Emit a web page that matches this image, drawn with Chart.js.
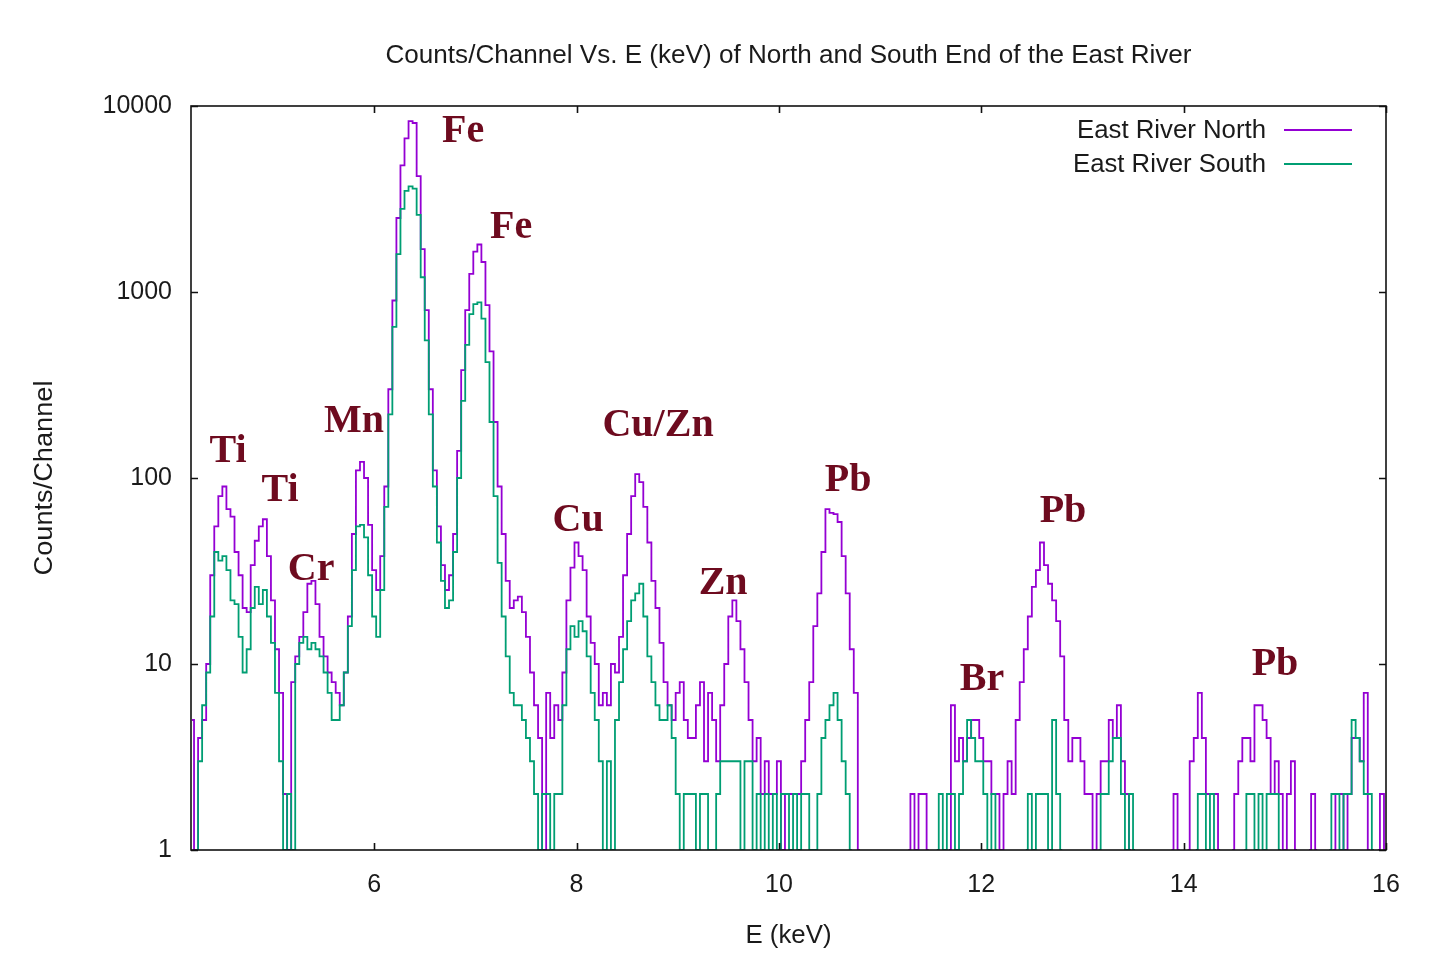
<!DOCTYPE html>
<html>
<head>
<meta charset="utf-8">
<script src="https://cdn.jsdelivr.net/npm/chart.js@4.4.1/dist/chart.umd.min.js"></script>
<style>
  html, body { margin: 0; padding: 0; background: #ffffff; }
  #wrap { width: 1434px; height: 957px; position: relative; }
</style>
</head>
<body>
<div id="wrap"><canvas id="spectrum" width="1434" height="957"></canvas></div>
<script>
// Detector calibration: channel i sits at E = START_KEV + i * CHANNEL_KEV
const START_KEV = 4.20;
const CHANNEL_KEV = 0.04;

// Counts per channel, East River North (null = empty channel)
const north_4to8 = [
  5, 1, 4, 5, 10, 30, 55, 80, 90, 68,
  62, 40, 30, 20, 19, 34, 46, 55, 60, 38,
  22, 12, 7, 2, 1, 8, 11, 14, 19, 27,
  28, 21, 14, 11, 9, 8, 7, 6, 9, 18,
  50, 110, 122, 100, 56, 32, 25, 38, 90, 300,
  900, 2500, 4800, 6700, 8300, 8100, 4200, 1700, 800, 300,
  110, 55, 34, 25, 30, 50, 140, 380, 800, 1250,
  1650, 1800, 1450, 850, 480, 200, 90, 50, 28, 20,
  22, 23, 19, 14, 9, 6, 4, 1, 7, 4,
  6, 5, 9, 22, 33
];
const north_8to12 = [
  45, 38, 32, 18, 13, 10, 6, 7, 6, 10,
  9, 14, 30, 50, 80, 105, 95, 70, 45, 28,
  20, 13, 8, 6, 5, 7, 8, 5, 4, 4,
  6, 8, 3, 7, 5, 3, 6, 10, 18, 22,
  17, 12, 8, 5, 3, 4, 2, 3, 2, 2,
  3, 1, 2, 2, 2, 2, 3, 5, 8, 16,
  24, 40, 68, 65, 64, 58, 38, 24, 12, 7,
  1, null, null, null, null, null, null, null, null, null,
  null, null, 1, 2, 1, 2, 2, 1, null, null,
  null, null, 1, 6, 3, 4, 3, 4, 5, 5
];
const north_12to16 = [
  4, 3, 3, 2, 2, 1, 2, 3, 2, 5,
  8, 12, 18, 26, 32, 45, 34, 27, 22, 17,
  11, 5, 3, 4, 4, 3, 2, 2, 1, 2,
  3, 3, 5, 4, 6, 3, 2, 1, null, null,
  null, null, null, null, null, null, null, 1, 2, 1,
  null, 1, 3, 4, 7, 4, 2, 2, 2, 1,
  null, null, 1, 2, 3, 4, 4, 3, 6, 6,
  5, 4, 2, 3, 2, 1, 2, 3, 1, null,
  null, 1, 2, 1, null, null, null, 1, 2, 2,
  1, 2, 4, 4, 3, 7, 1, null, 1, 2,
  1
];

// Counts per channel, East River South (null = empty channel)
const south_4to8 = [
  null, 1, 3, 6, 9, 18, 40, 36, 38, 32,
  22, 21, 14, 9, 12, 20, 26, 21, 25, 18,
  13, 7, 3, 1, 2, 1, 10, 13, 14, 12,
  13, 12, 11, 9, 7, 5, 5, 6, 9, 16,
  32, 55, 56, 48, 30, 18, 14, 25, 70, 220,
  650, 1600, 2800, 3500, 3700, 3600, 2600, 1200, 550, 220,
  90, 45, 28, 20, 22, 40, 100, 260, 520, 760,
  860, 880, 720, 420, 200, 80, 35, 18, 11, 7,
  6, 6, 5, 4, 3, 2, 1, 2, 2, 1,
  2, 2, 6, 12, 16
];
const south_8to12 = [
  14, 17, 15, 11, 7, 5, 3, 1, 3, 1,
  5, 8, 12, 17, 22, 24, 27, 18, 11, 8,
  6, 5, 5, 6, 4, 2, 1, 2, 2, 2,
  1, 2, 2, 1, 1, 2, 3, 3, 3, 3,
  3, 1, 3, 3, 1, 2, 1, 2, 1, 2,
  1, 2, 2, 1, 2, 1, 2, 2, 1, 1,
  2, 4, 5, 6, 7, 5, 3, 2, 1, null,
  null, null, null, null, null, null, null, null, null, null,
  null, null, null, null, null, null, null, null, null, 1,
  2, 1, 2, 2, 1, 2, 3, 5, 4, 3
];
const south_12to16 = [
  3, 2, 1, 2, 1, null, null, null, null, null,
  null, 1, 2, 1, 2, 2, 2, 1, 5, 2,
  1, null, null, null, null, null, null, null, null, 1,
  2, 2, 3, 4, 4, 2, 1, 2, 1, null,
  null, null, null, null, null, null, null, null, null, null,
  null, null, null, 1, 2, 2, 1, 2, 1, null,
  null, null, null, null, null, 1, 2, 2, 1, 2,
  1, 2, 2, 2, 1, null, null, null, null, null,
  null, null, null, null, null, null, 1, 2, 2, 1,
  2, 2, 5, 4, 3, 2, 2, 1, null, null,
  null
];

// Axis ticks
const energyTicks = [6, 8, 10, 12, 14, 16];
const countTicks = [1, 10, 100, 1000, 10000];

// Peak identifications: element, energy (keV), counts level of the label
const peakNames = ['Ti', 'Ti', 'Cr', 'Mn', 'Fe', 'Fe', 'Cu', 'Cu/Zn', 'Zn', 'Pb', 'Br', 'Pb', 'Pb'];
const peakEnergies = [4.557, 5.071, 5.377, 5.802, 6.879, 7.354, 8.016, 8.806, 9.449, 10.684, 12.008, 12.808, 14.903];
const peakLabelCounts = [138, 86, 32, 200, 7250, 2210, 59, 190, 27, 97, 8.2, 66, 9.9];

const seriesNames = ['East River North', 'East River South'];
const seriesColors = ['#9400D3', '#009E73'];

function toPoints(counts) {
  return counts.map((c, i) => ({ x: +(START_KEV + i * CHANNEL_KEV).toFixed(2), y: c }));
}
const northCounts = [...north_4to8, ...north_8to12, ...north_12to16];
const southCounts = [...south_4to8, ...south_8to12, ...south_12to16];

const TEXT_FONT = '"Liberation Sans", Arial, sans-serif';

// Draws a line of text squeezed/stretched horizontally to a given width
function fitText(ctx, text, cx, cy, width, font, color, rotate) {
  ctx.save();
  ctx.font = font;
  ctx.fillStyle = color;
  ctx.textAlign = 'center';
  ctx.textBaseline = 'middle';
  const w = ctx.measureText(text).width;
  ctx.translate(cx, cy);
  if (rotate) ctx.rotate(-Math.PI / 2);
  ctx.scale(width / w, 1);
  ctx.fillText(text, 0, 0);
  ctx.restore();
}

// Frame with inward ticks on all four sides, drawn over the traces
const framePlugin = {
  id: 'frame',
  afterDatasetsDraw(chart) {
    const { ctx, chartArea: a, scales: { x, y } } = chart;
    ctx.save();
    ctx.strokeStyle = '#111';
    ctx.lineWidth = 1.6;
    ctx.beginPath();
    const L = 7;
    energyTicks.forEach(v => {
      const px = Math.round(x.getPixelForValue(v)) + 0.5;
      ctx.moveTo(px, a.bottom); ctx.lineTo(px, a.bottom - L);
      ctx.moveTo(px, a.top); ctx.lineTo(px, a.top + L);
    });
    countTicks.forEach(v => {
      const py = Math.round(y.getPixelForValue(v)) + 0.5;
      ctx.moveTo(a.left, py); ctx.lineTo(a.left + L, py);
      ctx.moveTo(a.right, py); ctx.lineTo(a.right - L, py);
    });
    ctx.stroke();
    ctx.strokeRect(a.left, a.top, a.right - a.left, a.bottom - a.top);
    ctx.restore();
  }
};

// Title, axis titles, legend and element labels
const textPlugin = {
  id: 'texts',
  afterDraw(chart) {
    const { ctx, chartArea: a, scales: { x, y } } = chart;
    const midX = (a.left + a.right) / 2;
    fitText(ctx, 'Counts/Channel Vs. E (keV) of North and South End of the East River',
      midX, 56, 806, '26px ' + TEXT_FONT, '#1a1a1a');
    fitText(ctx, 'E (keV)', midX, 936, 86, '26px ' + TEXT_FONT, '#1a1a1a');
    fitText(ctx, 'Counts/Channel', 45, (a.top + a.bottom) / 2, 195, '25px ' + TEXT_FONT, '#1a1a1a', true);

    // legend: text right-aligned, line sample to its right
    const legendRows = [131, 165];
    const legendWidths = [189, 193];
    seriesNames.forEach((name, k) => {
      const rowY = legendRows[k];
      fitText(ctx, name, 1266 - legendWidths[k] / 2, rowY, legendWidths[k], '26px ' + TEXT_FONT, '#1a1a1a');
      ctx.save();
      ctx.strokeStyle = seriesColors[k];
      ctx.lineWidth = 1.8;
      ctx.beginPath();
      ctx.moveTo(1284, rowY - 1);
      ctx.lineTo(1352, rowY - 1);
      ctx.stroke();
      ctx.restore();
    });

    ctx.save();
    ctx.font = 'bold 40px "Liberation Serif", "Times New Roman", serif';
    ctx.fillStyle = '#6e0b1f';
    ctx.textAlign = 'center';
    ctx.textBaseline = 'middle';
    peakNames.forEach((name, k) => {
      ctx.fillText(name, x.getPixelForValue(peakEnergies[k]), y.getPixelForValue(peakLabelCounts[k]));
    });
    ctx.restore();
  }
};

new Chart(document.getElementById('spectrum'), {
  type: 'line',
  data: {
    datasets: [
      {
        label: seriesNames[0],
        data: toPoints(northCounts),
        borderColor: seriesColors[0],
        borderWidth: 1.8,
        stepped: 'middle',
        pointRadius: 0,
        spanGaps: false,
        fill: false,
        order: 1
      },
      {
        label: seriesNames[1],
        data: toPoints(southCounts),
        borderColor: seriesColors[1],
        borderWidth: 1.8,
        stepped: 'middle',
        pointRadius: 0,
        spanGaps: false,
        fill: false,
        order: 0
      }
    ]
  },
  options: {
    responsive: false,
    animation: false,
    devicePixelRatio: 1,
    layout: { padding: { left: 10, right: 48, top: 106, bottom: 10 } },
    plugins: {
      legend: { display: false },
      title: { display: false },
      tooltip: { enabled: false }
    },
    scales: {
      x: {
        type: 'linear',
        min: 4.19,
        max: 16,
        grid: { display: false, drawTicks: false },
        border: { display: false },
        afterBuildTicks: axis => { axis.ticks = energyTicks.map(v => ({ value: v })); },
        afterFit: axis => { axis.height = 97; },
        ticks: {
          color: '#1a1a1a',
          padding: 20,
          maxRotation: 0,
          font: { family: TEXT_FONT, size: 25 },
          callback: v => String(v)
        }
      },
      y: {
        type: 'logarithmic',
        min: 1,
        max: 10000,
        grid: { display: false, drawTicks: false },
        border: { display: false },
        afterBuildTicks: axis => { axis.ticks = countTicks.map(v => ({ value: v })); },
        afterFit: axis => { axis.width = 181; },
        ticks: {
          color: '#1a1a1a',
          padding: 19,
          font: { family: TEXT_FONT, size: 25 },
          callback: v => String(v)
        }
      }
    }
  },
  plugins: [framePlugin, textPlugin]
});
</script>
</body>
</html>
